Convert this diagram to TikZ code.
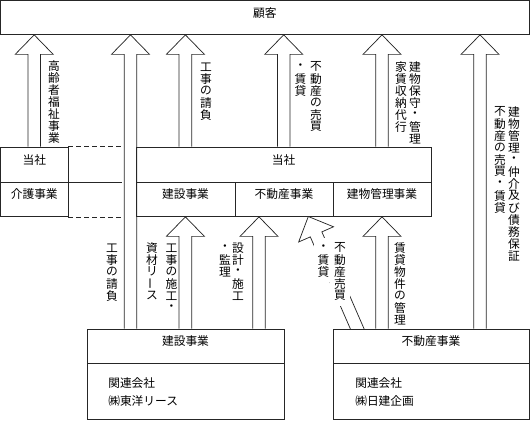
\documentclass[tikz,border=0pt]{standalone}
\usepackage{fontspec}
\usepackage{graphicx}
\newfontfamily\jp{Noto Sans CJK JP}
\usetikzlibrary{calc,fit}

% vertical stack of characters (one per 9pt cell)
\newcommand\vcol[1]{\vbox{\offinterlineskip\vcolaux#1\relax}}
\def\vcolaux#1{\ifx\relax#1\else\hbox to 9pt{\hss\vbox to 9pt{\vss\hbox{#1}\vss}\hss}\expandafter\vcolaux\fi}

% fat (block) arrow from base #1 to tip #2
\newcommand\fatarrow[2]{%
  \coordinate (fa-b) at (#1);
  \coordinate (fa-t) at (#2);
  \coordinate (fa-h) at ($(fa-t)!14.625pt!(fa-b)$);
  \draw[fat] ($(fa-b)!4.725pt!-90:(fa-t)$) -- ($(fa-h)!4.725pt!90:(fa-b)$)
    -- ($(fa-h)!14.25pt!90:(fa-b)$) -- (fa-t) -- ($(fa-h)!14.25pt!-90:(fa-b)$)
    -- ($(fa-h)!4.725pt!-90:(fa-b)$) -- ($(fa-b)!4.725pt!90:(fa-t)$);
}

\begin{document}
\begin{tikzpicture}[x=0.75pt,y=-0.75pt,
  every node/.style={font=\jp\fontsize{8.8}{9}\selectfont, text=black},
  box/.style={draw=black!85, line width=0.55pt, inner sep=0pt},
  fat/.style={draw=black!85, line width=0.55pt, line join=miter},
  ln/.style={draw=black!85, line width=0.55pt},
  dsh/.style={ln, dash pattern=on 3.6pt off 2.4pt},
  lab/.style={inner sep=0pt, anchor=north},
  wlab/.style={inner sep=3pt, fill=white, anchor=north}]
\useasboundingbox (0,0) rectangle (530,421);

% boxes
\node[box, fit={(0.5,0.5)(529,34.5)}] (kok) {顧客};
\node[box, fit={(0.5,147)(68,182)}] (lt) {当社};
\node[box, fit={(0.5,182)(68,216.5)}] (lc) {介護事業};
\node[box, fit={(136,147)(431,182)}] (mt) {当社};
\node[box, fit={(136,182)(235,216.5)}] (m1) {建設事業};
\node[box, fit={(235,182)(333,216.5)}] (m2) {不動産事業};
\node[box, fit={(333,182)(431,216.5)}] (m3) {建物管理事業};
\node[box, fit={(87,329)(284,363)}] (blh) {建設事業};
\node[box, fit={(87,363)(284,419)}] (blb) {};
\node[box, fit={(333,329)(529,363)}] (brh) {不動産事業};
\node[box, fit={(333,363)(529,419)}] (brb) {};

\node[anchor=west, inner sep=0pt] (blt1) at (108,383) {関連会社};
\node[anchor=west, inner sep=0pt] (blt2) at (108,401) {㈱東洋リース};
\node[anchor=west, inner sep=0pt] (brt1) at (355,383) {関連会社};
\node[anchor=west, inner sep=0pt] (brt2) at (355,401) {㈱日建企画};

% left box extension
\coordinate (ex) at (122,0);
\draw[dsh] (lt.north east) -- (lt.north east -| ex);
\draw[ln] (lt.south east) -- (lt.south east -| ex);
\draw[dsh] (lc.south east) -- (lc.south east -| ex);

% arrow axes
\coordinate (x1) at (34.2,0);
\coordinate (x2) at (130.5,0);
\coordinate (x3) at (185.4,0);
\coordinate (x4) at (283.7,0);
\coordinate (x5) at (382,0);
\coordinate (x6) at (480,0);
\coordinate (x8) at (259,0);

\fatarrow{x1 |- lt.north}{x1 |- kok.south}
\fatarrow{x2 |- blh.north}{x2 |- kok.south}
\fatarrow{x3 |- mt.north}{x3 |- kok.south}
\fatarrow{x4 |- mt.north}{x4 |- kok.south}
\fatarrow{x5 |- mt.north}{x5 |- kok.south}
\fatarrow{x6 |- brh.north}{x6 |- kok.south}
\fatarrow{x3 |- blh.north}{x3 |- m1.south}
\fatarrow{x8 |- blh.north}{x8 |- m2.south}
\fatarrow{x5 |- brh.north}{x5 |- m3.south}

\begin{scope}
  \clip (0,0) rectangle (530,328.6);
  \coordinate (sb) at (359.9,335);
  \coordinate (st) at (308.3,216.5);
  \fatarrow{sb}{st}
\end{scope}

% vertical labels
\node[lab] (t1) at (54,59.5) {\vcol{高齢者福祉事業}};
\node[lab] (t3) at (206,60.5) {\vcol{工事の請負}};
\node[lab] (t4a) at (316,60.5) {\vcol{不動産の売買}};
\node[lab] (t4b) at (300.5,60.5) {\vcol{・賃貸}};
\node[lab] (t5a) at (415,60.5) {\vcol{建物保守・管理}};
\node[lab] (t5b) at (401,60.5) {\vcol{家賃収納代行}};
\node[lab] (t6a) at (514,105.5) {\vcol{建物管理・仲介及び債務保証}};
\node[lab] (t6b) at (500,105.5) {\vcol{不動産の売買・賃貸}};
\node[lab] (t2) at (112,241.5) {\vcol{工事の請負}};
\node[lab] (t7a) at (171.5,241.5) {\vcol{工事の施工・}};
\node[lab] (t7b) at (152,241.5) {\vcol{資材リ{\rotatebox{90}{ー}}ス}};
\node[lab] (t8a) at (238,241.5) {\vcol{設計・施工}};
\node[lab] (t8b) at (225,241.5) {\vcol{・監理}};
\node[wlab] (t9a) at (340,237.5) {\vcol{不動産売買}};
\node[wlab] (t9b) at (323.5,237.5) {\vcol{・賃貸}};
\node[lab] (t10) at (400,241.5) {\vcol{賃貸物件の管理}};
\end{tikzpicture}
\end{document}
